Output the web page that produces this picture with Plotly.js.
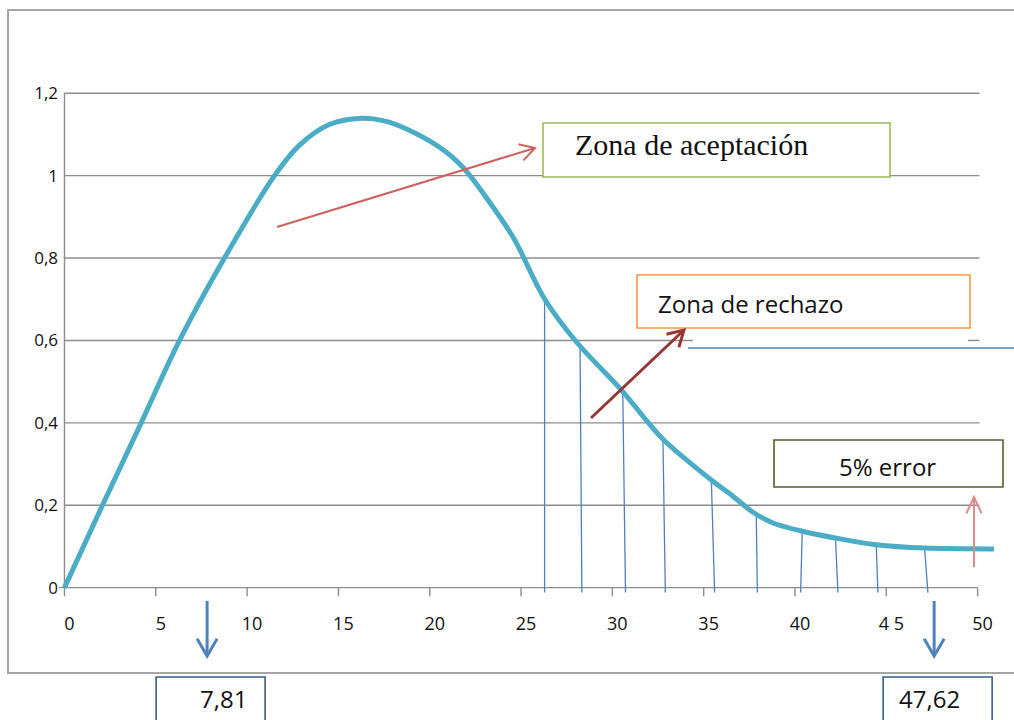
<!DOCTYPE html>
<html><head><meta charset="utf-8">
<script src="https://cdn.plot.ly/plotly-3.0.1.min.js"></script>
<style>html,body{margin:0;padding:0;background:#fff;}#chart{width:1014px;height:720px;}</style>
</head><body><div id="chart"></div>
<script>
// ---- data ----
const curveX = [0, 2.08, 4.2, 6.3, 8.76, 11.5, 12.87, 14.5, 16.25, 17.5, 18.7, 20.5, 21.8, 23.46, 24.6, 26.3, 28.0, 30.57, 31.94, 32.8, 35.4, 36.6, 37.7, 38.8, 40.3, 42.26, 44.45, 47.1, 50.9];
const curveY = [0, 0.2, 0.4, 0.6, 0.8, 1.0, 1.074, 1.124, 1.139, 1.133, 1.114, 1.07, 1.021, 0.924, 0.848, 0.70, 0.598, 0.476, 0.402, 0.359, 0.262, 0.222, 0.183, 0.157, 0.138, 0.120, 0.104, 0.096, 0.094];
const hatchBaseX = [26.29, 28.33, 30.72, 32.90, 35.60, 37.94, 40.31, 42.35, 44.54, 47.28];
const hatchTopX  = [26.29, 28.23, 30.57, 32.77, 35.42, 37.88, 40.40, 42.22, 44.45, 47.10];
const hatchTopY  = [0.70, 0.588, 0.476, 0.359, 0.262, 0.176, 0.142, 0.120, 0.104, 0.094];
const hatchBaseY = -0.012;
const xTickVals = [0, 5, 10, 15, 20, 25, 30, 35, 40, 45, 50];
const xTickText = ['0', '5', '10', '15', '20', '25', '30', '35', '40', '4 5', '50'];
const yTickVals = [0, 0.2, 0.4, 0.6, 0.8, 1, 1.2];
const yTickText = ['0', '0,2', '0,4', '0,6', '0,8', '1', '1,2'];
const critVals = [7.81, 47.62];
const critText = critVals.map(v => String(v).replace('.', ','));
const acceptText = 'Zona de aceptación';
const rejectText = 'Zona de rechazo';
const errorText = '5% error';

// ---- layout geometry ----
const FW = 1014, FH = 720;
const M = {l: 59, r: 9, t: 85, b: 120};
const PW = FW - M.l - M.r, PH = FH - M.t - M.b;
const xRange = [-0.3, 51.5], yRange = [-0.03, 1.22];
const toPX = p => (p - M.l) / PW;          // pixel -> paper x
const toPY = p => (M.t + PH - p) / PH;     // pixel -> paper y
const xPix = v => M.l + (v - xRange[0]) / (xRange[1] - xRange[0]) * PW;

const SANS = 'Open Sans, Liberation Sans, sans-serif';
const SERIF = 'Liberation Serif, DejaVu Serif, serif';
const GRID = '#8c8c8c';

const shapes = [];
// gridlines
yTickVals.forEach(v => {
  if (v === 0) return;
  const segs = (v === 0.6) ? [[0, 34.41], [49.47, 50.1]] : [[0, 50.1]];
  segs.forEach(s => shapes.push({type: 'line', xref: 'x', yref: 'y', x0: s[0], x1: s[1], y0: v, y1: v, layer: 'below', line: {color: GRID, width: 1.4}}));
});
// axis lines
shapes.push({type: 'line', xref: 'x', yref: 'y', x0: 0, x1: 0, y0: 0, y1: 1.2, layer: 'below', line: {color: GRID, width: 1.4}});
shapes.push({type: 'line', xref: 'x', yref: 'y', x0: -0.38, x1: 50, y0: 0, y1: 0, layer: 'below', line: {color: GRID, width: 1.4}});
xTickVals.forEach(v => shapes.push({type: 'line', xref: 'x', yref: 'y', x0: v, x1: v, y0: 0, y1: -0.021, layer: 'below', line: {color: GRID, width: 1.4}}));

// outer frame
function rectPx(x0, y0, x1, y1, color, width, fill) {
  return {type: 'rect', xref: 'paper', yref: 'paper', x0: toPX(x0), x1: toPX(x1), y0: toPY(y0), y1: toPY(y1),
    line: {color: color, width: width}, fillcolor: fill || 'rgba(0,0,0,0)', layer: 'above'};
}
shapes.push(rectPx(8, 10, 1030, 673, '#a6a6a6', 2));
// text boxes
shapes.push(rectPx(543, 123, 890, 177, '#9BBB59', 1.6, '#ffffff'));
shapes.push(rectPx(637, 275, 970, 328, '#F79646', 1.6, '#ffffff'));
shapes.push(rectPx(774, 440, 1003, 487, '#4F6228', 1.6, '#ffffff'));
// blue horizontal line
shapes.push({type: 'line', xref: 'paper', yref: 'paper', x0: toPX(688), x1: toPX(1020), y0: toPY(348), y1: toPY(348), line: {color: '#4F81BD', width: 1.3}});

// arrows (drawn in pixel space, converted to paper)
function arrowPx(x0, y0, x1, y1, color, width, head, angDeg) {
  const a = Math.atan2(y1 - y0, x1 - x0), da = angDeg * Math.PI / 180;
  const ax = x1 - head * Math.cos(a - da), ay = y1 - head * Math.sin(a - da);
  const bx = x1 - head * Math.cos(a + da), by = y1 - head * Math.sin(a + da);
  const P = (x, y) => toPX(x).toFixed(5) + ',' + toPY(y).toFixed(5);
  shapes.push({type: 'path', xref: 'paper', yref: 'paper', path: 'M' + P(x0, y0) + 'L' + P(x1, y1), line: {color: color, width: width}});
  shapes.push({type: 'path', xref: 'paper', yref: 'paper', path: 'M' + P(ax, ay) + 'L' + P(x1, y1) + 'L' + P(bx, by), line: {color: color, width: width}});
}
arrowPx(277, 227, 535, 148, '#D0605E', 2, 17, 30);
arrowPx(591, 418, 684, 330, '#953735', 3, 18, 30);
arrowPx(974, 567, 974, 497, '#D98C8B', 2, 18, 25);

const annotations = [];
critVals.forEach((v, i) => {
  const px = xPix(v);
  arrowPx(px, 601, px, 656, '#4F81BD', 3, 20, 30);
  shapes.push(rectPx(px - 51, 677, px + 58, 740, '#385D8A', 1.6, '#ffffff'));
  annotations.push({xref: 'paper', yref: 'paper', x: toPX(px + (i === 0 ? 16 : -5)), y: toPY(698), text: critText[i],
    showarrow: false, xanchor: 'center', yanchor: 'middle', font: {family: SANS, size: 24, color: '#111'}});
});

annotations.push({xref: 'paper', yref: 'paper', x: toPX(573), y: toPY(145), text: acceptText, showarrow: false,
  xanchor: 'left', yanchor: 'middle', font: {family: SERIF, size: 30, color: '#111'}});
annotations.push({xref: 'paper', yref: 'paper', x: toPX(656), y: toPY(303), text: rejectText, showarrow: false,
  xanchor: 'left', yanchor: 'middle', font: {family: SANS, size: 24, color: '#111'}});
annotations.push({xref: 'paper', yref: 'paper', x: toPX(887), y: toPY(466), text: errorText, showarrow: false,
  xanchor: 'center', yanchor: 'middle', font: {family: SANS, size: 24, color: '#111'}});

// ---- traces ----
const hx = [], hy = [];
hatchBaseX.forEach((bx, i) => { hx.push(bx, hatchTopX[i], null); hy.push(hatchBaseY, hatchTopY[i], null); });

const traces = [
  {type: 'scatter', mode: 'lines', x: hx, y: hy, line: {color: '#4F81BD', width: 1.3}, hoverinfo: 'skip', showlegend: false},
  {type: 'scatter', mode: 'lines', x: curveX, y: curveY, line: {color: '#4BACC6', width: 5, shape: 'spline', smoothing: 1}, hoverinfo: 'skip', showlegend: false}
];

const layout = {
  width: FW, height: FH,
  margin: M,
  paper_bgcolor: '#ffffff', plot_bgcolor: '#ffffff',
  showlegend: false,
  xaxis: {range: xRange, tickvals: xTickVals, ticktext: xTickText, showgrid: false, zeroline: false, showline: false,
    ticks: 'outside', ticklen: 7, tickcolor: 'rgba(0,0,0,0)', ticklabelshift: 5,
    tickfont: {family: SANS, size: 18, color: '#111'}},
  yaxis: {range: yRange, tickvals: yTickVals, ticktext: yTickText, showgrid: false, zeroline: false, showline: false,
    ticks: '', tickfont: {family: SANS, size: 17, color: '#111'}},
  shapes: shapes,
  annotations: annotations
};

Plotly.newPlot('chart', traces, layout, {displayModeBar: false, staticPlot: true});
</script>
</body></html>
